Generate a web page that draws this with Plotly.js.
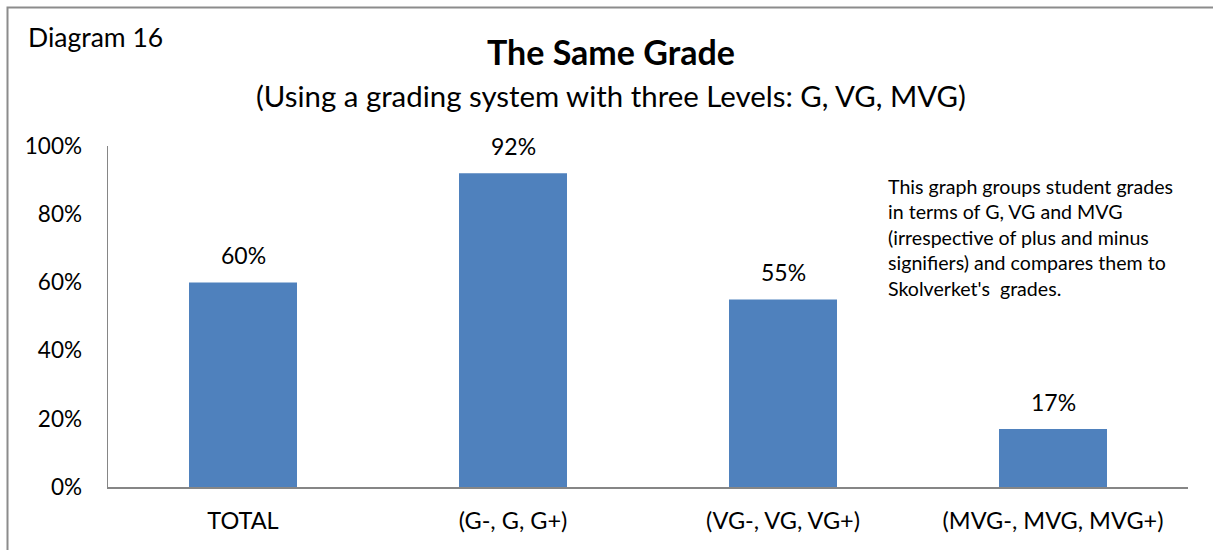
<!DOCTYPE html>
<html>
<head>
<meta charset="utf-8">
<script src="https://cdn.plot.ly/plotly-3.0.1.min.js"></script>
<style>html,body{margin:0;padding:0;background:#fff;}#chart{width:1213px;height:550px;}</style>
</head>
<body>
<div id="chart"></div>
<script>
const categories = ["TOTAL", "(G-, G, G+)", "(VG-, VG, VG+)", "(MVG-, MVG, MVG+)"];
const values = [60, 92, 55, 17];
const labels = ["60%", "92%", "55%", "17%"];
const yTickVals = [0, 20, 40, 60, 80, 100];
const yTickText = ["0%", "20%", "40%", "60%", "80%", "100%"];

const FONT = "Lato, 'Open Sans', sans-serif";

const trace = {
  type: "bar",
  x: categories,
  y: values,
  marker: {color: "#4f81bd", line: {width: 0}},
  width: 0.4,
  hoverinfo: "none"
};

const L = 108, R = 1188, T = 146, B = 487;
const px = v => (v - L) / (R - L);
const py = v => (B - v) / (B - T);

const valueLabels = categories.map((c, i) => ({
  text: labels[i], x: c, y: values[i], xref: "x", yref: "y",
  xanchor: "center", yanchor: "bottom", yshift: 11, showarrow: false,
  font: {family: FONT, size: 23, color: "#000"}
}));

const layout = {
  width: 1213, height: 550,
  margin: {l: L, r: 1213 - R, t: T, b: 550 - B, pad: 0},
  paper_bgcolor: "#fff", plot_bgcolor: "#fff",
  showlegend: false,
  font: {family: FONT, color: "#000"},
  xaxis: {
    showline: true, linecolor: "#868686", linewidth: 1.5,
    ticks: "", showgrid: false, zeroline: false,
    tickfont: {family: FONT, size: 23.5, color: "#000"},
    ticklabelstandoff: 12
  },
  yaxis: {
    range: [0, 100], showline: true, linecolor: "#868686", linewidth: 1.5,
    ticks: "", showgrid: false, zeroline: false,
    tickvals: yTickVals, ticktext: yTickText,
    tickfont: {family: FONT, size: 22.5, color: "#000"},
    ticklabelstandoff: 20
  },
  shapes: [{
    type: "path", xref: "paper", yref: "paper",
    path: `M ${px(7.5)} ${py(560)} L ${px(7.5)} ${py(7.5)} L ${px(1220)} ${py(7.5)}`,
    line: {color: "#8c8c8c", width: 2}
  }],
  annotations: valueLabels.concat([
    {text: "Diagram 16", xref: "paper", yref: "paper", x: px(26), y: py(37), xanchor: "left", yanchor: "middle", showarrow: false, font: {family: FONT, size: 26.5}},
    {text: "<b>The Same Grade</b>", xref: "paper", yref: "paper", x: px(611), y: py(51), xanchor: "center", yanchor: "middle", showarrow: false, font: {family: FONT, size: 34}},
    {text: "(Using a grading system with three Levels: G, VG, MVG)", xref: "paper", yref: "paper", x: px(611), y: py(96), xanchor: "center", yanchor: "middle", showarrow: false, font: {family: FONT, size: 29.4}},
    {text: "This graph groups student grades<br>in terms of G, VG and MVG<br>(irrespective of plus and minus<br>signifiers) and compares them to<br>Skolverket's  grades.", xref: "paper", yref: "paper", x: px(886), y: py(173), xanchor: "left", yanchor: "top", align: "left", showarrow: false, font: {family: FONT, size: 19.6}}
  ])
};

Plotly.newPlot("chart", [trace], layout, {staticPlot: true, displayModeBar: false});
</script>
</body>
</html>
